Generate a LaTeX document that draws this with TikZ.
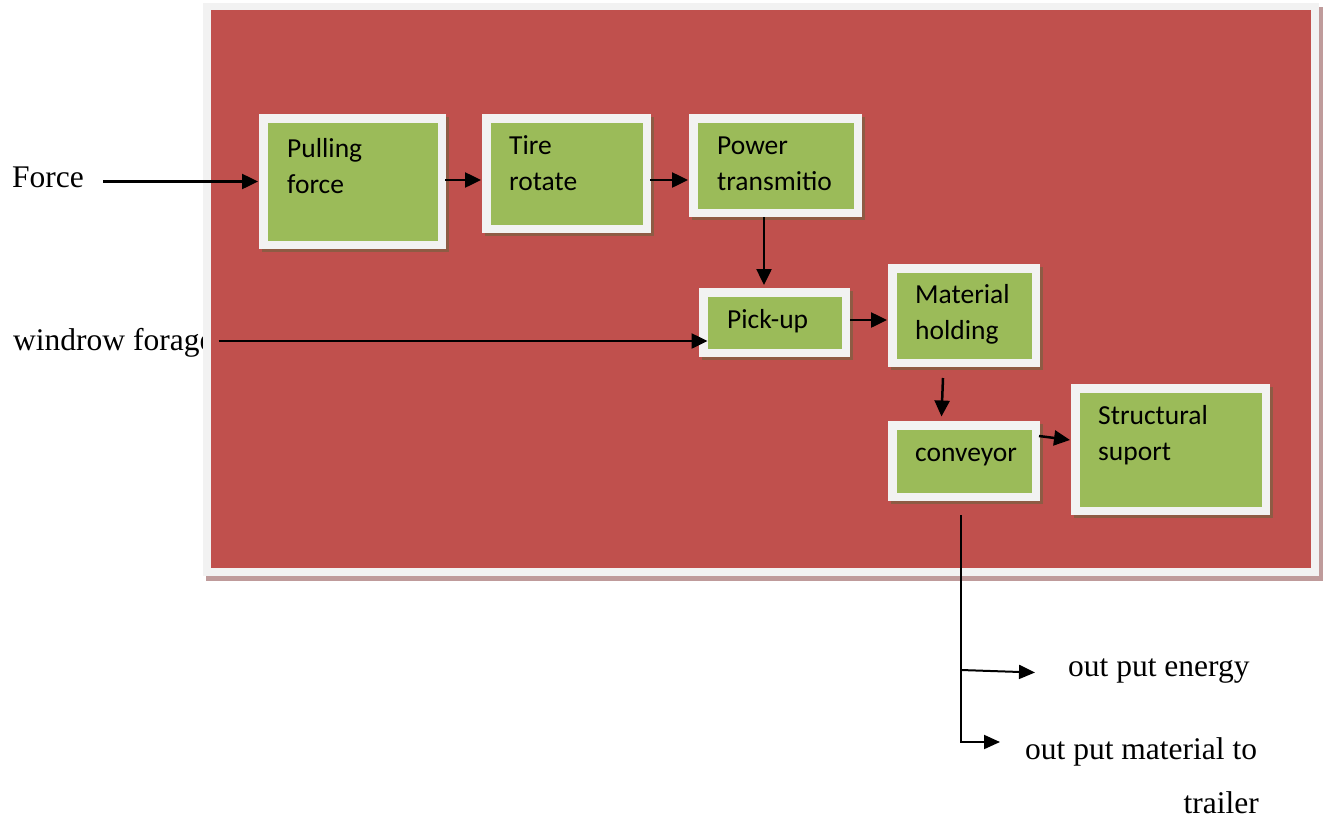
\documentclass[tikz,border=0pt]{standalone}
\usepackage{fontspec}
\setmainfont{Liberation Serif}
\newfontfamily\boxfont{Carlito}
\usetikzlibrary{arrows.meta,calc,shadows}
\definecolor{redbg}{HTML}{C0504D}
\definecolor{greenbox}{HTML}{9BBB59}
\definecolor{whiteb}{HTML}{F2F2F2}
\definecolor{bshadow}{HTML}{8E5B44}
\definecolor{fshadow}{HTML}{BF9B9B}
\begin{document}
\begin{tikzpicture}[x=1pt,y=-1pt,
  box/.style={rectangle, draw=whiteb, line width=8.5pt, fill=greenbox, inner sep=0pt,
    drop shadow={shadow xshift=3pt, shadow yshift=-3pt, fill=bshadow, draw=bshadow, line width=8.5pt, opacity=1}},
  btxt/.style={anchor=base west, inner sep=0pt, align=left, font=\boxfont\fontsize{27.5}{36}\selectfont},
  stxt/.style={inner sep=0pt, font=\fontsize{31.5}{38}\selectfont},
  arr/.style={line width=2.5pt, -{Triangle[length=16pt,width=15pt]}},
  oarr/.style={line width=2pt, -{Triangle[length=16pt,width=14pt]}},
]
\useasboundingbox (0,0) rectangle (1325,822);

% text partly hidden behind the frame
\node[stxt, anchor=base west] (wind) at (13,350.5) {windrow forage};

% frame
\fill[fshadow] (206,7) rectangle (1323,581);
\fill[whiteb] (203,3) rectangle (1319,576);
\fill[redbg] (211,10) rectangle (1311,568);

% boxes
\node[box, minimum width=178.5pt, minimum height=126.5pt] (b1) at (352.5,181.5) {};
\node[box, minimum width=160.5pt, minimum height=110.5pt] (b2) at (566.5,173.5) {};
\node[box, minimum width=164.5pt, minimum height=94.5pt] (b3) at (775.5,165.5) {};
\node[box, minimum width=142.5pt, minimum height=60.5pt] (b4) at (774.5,322.5) {};
\node[box, minimum width=143.5pt, minimum height=94.5pt] (b5) at (964,315.5) {};
\node[box, minimum width=143.5pt, minimum height=71.5pt] (b6) at (964,461) {};
\node[box, minimum width=190.5pt, minimum height=122.5pt] (b7) at (1170.5,449.5) {};

% box texts (anchor = baseline of the last line)
\node[btxt] (t1) at (287,193) {Pulling\\force};
\node[btxt] (t2) at (509,190) {Tire\\rotate};
\node[btxt] (t3) at (717,190) {Power\\transmitio};
\node[btxt] (t4) at (727,328) {Pick-up};
\node[btxt] (t5) at (915,339) {Material\\holding};
\node[btxt] (t6) at (915,461) {conveyor};
\node[btxt] (t7) at (1098,460) {Structural\\suport};

% outside texts
\node[stxt, anchor=base west] (force) at (12,187) {Force};
\node[stxt, anchor=base west] (oe) at (1068,676) {out put energy};
\node[stxt, anchor=base west] (om) at (1025,759) {out put material to};
\node[stxt, anchor=base east] (otr) at (1259,813) {trailer};

% connectors
\coordinate (fs) at ($(force.east |- b1.west)+(19,0)$);
\draw[arr] (fs) -- ($(b1.west)+(-1,0)$);
\draw[arr] ($(b1.east)+(-1,-1.5)$) -- ($(b1.east -| b2.west)+(-1,-1.5)$);
\coordinate (a23) at ($(b2.east)+(-1,6.5)$);
\draw[arr] (a23) -- ($(a23 -| b3.west)+(-1,0)$);
\coordinate (a34) at ($(b3.south)+(-11.5,0)$);
\draw[arr] (a34) -- ($(a34 |- b4.north)+(0,-3)$);
\coordinate (a4w) at ($(b4.west)+(8.5,18.5)$);
\draw[arr] ($(wind.east |- a4w)+(5,0)$) -- (a4w);
\coordinate (a45) at ($(b4.east)+(0,-2.5)$);
\draw[arr] (a45) -- ($(a45 -| b5.west)+(-1,0)$);
\draw[arr] ($(b5.south)+(-21,11)$) -- ($(b6.north)+(-22.5,-4.5)$);
\draw[arr] ($(b6.east)+(-1,-25)$) -- ($(b7.west)+(-1,-9.5)$);

\coordinate (o0) at ($(b6.south)+(-3,14)$);
\coordinate (o1) at (o0 |- 0,670);
\coordinate (o2) at (o0 |- 0,742);
\coordinate (e1) at ($(oe.base west)+(-33,-3.5)$);
\coordinate (e2) at ($(om.base west)+(-25,-17)$);
\draw[oarr] (o0) -- (o2) -- (e2);
\draw[oarr] (o1) -- (e1);
\end{tikzpicture}
\end{document}
